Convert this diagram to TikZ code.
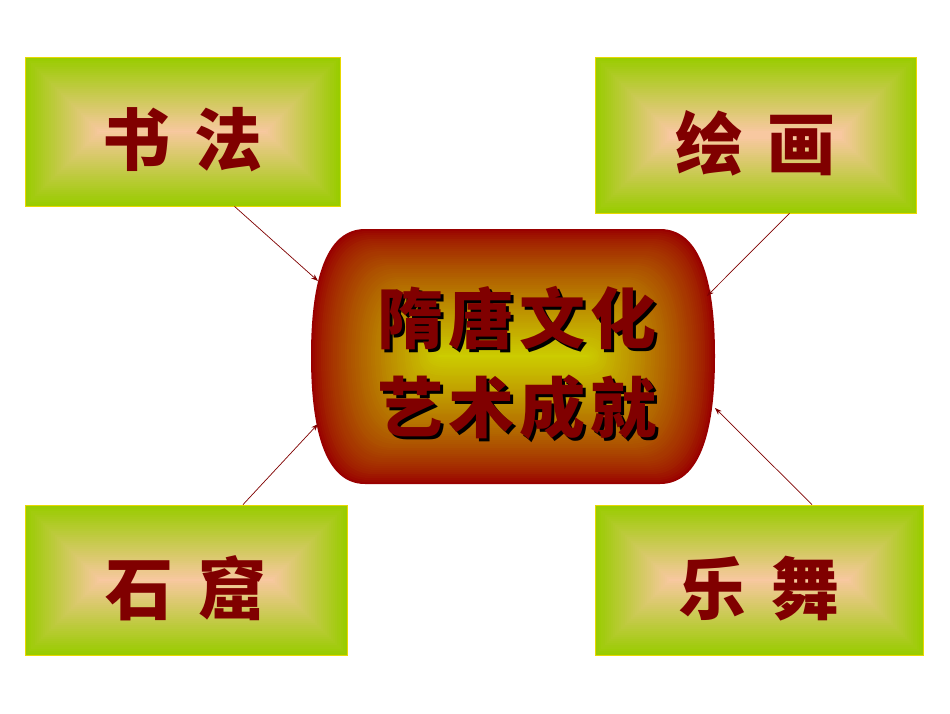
\documentclass[tikz,border=0pt]{standalone}
\usepackage{fontspec}
\usepackage{tikz}
\usetikzlibrary{arrows.meta}
\newfontfamily\cjk{Noto Sans CJK SC}[UprightFont=* Black]

\definecolor{tilegreen}{HTML}{99CC00}
\definecolor{tilepeach}{HTML}{F8C8A0}
\definecolor{tileedge}{HTML}{E8D800}
\definecolor{hubred}{HTML}{990000}
\definecolor{hubyellow}{HTML}{CCCC00}
\definecolor{inkred}{HTML}{800000}

\tikzset{
  tile/.style={draw=tileedge, line width=0.8pt, inner sep=0pt,
    font=\cjk\fontsize{68}{68}\selectfont, text=inkred,
    text height=74pt, text depth=6pt,
    path picture={
      \foreach \k in {0,...,37}{
        \pgfmathtruncatemacro\p{100*\k/37}
        \fill[tilepeach!\p!tilegreen]
          ([xshift=2*\k pt,yshift=2*\k pt]path picture bounding box.south west) rectangle
          ([xshift=-2*\k pt,yshift=-2*\k pt]path picture bounding box.north east);
      }
    }},
  hubtext/.style={align=center, font=\cjk\fontsize{66}{89}\selectfont},
  link/.style={draw=inkred, line width=0.7pt, -{Stealth[length=7pt,width=5pt]}}
}
\newcommand\hubpath{(-148,-127) -- (147,-127) .. controls (194,-127) and (202,-56) .. (202,0)
  .. controls (202,56) and (194,128) .. (147,128) -- (-148,128)
  .. controls (-194,128) and (-202,56) .. (-202,0)
  .. controls (-202,-56) and (-194,-127) .. (-148,-127) -- cycle}

\begin{document}
\begin{tikzpicture}[x=1pt, y=-1pt]
  \useasboundingbox[fill=white] (0,0) rectangle (950,713);

  % hub with its gradient
  \foreach \k in {0,...,63}{
    \pgfmathsetmacro\sx{(404-4*\k)/404}
    \pgfmathsetmacro\sy{max(0.001,(255-4*\k)/255)}
    \pgfmathtruncatemacro\p{100*(\k/63)^0.75}
    \begin{scope}[shift={(513,356)}, xscale=\sx, yscale=\sy]
      \fill[hubyellow!\p!hubred] \hubpath;
    \end{scope}
  }
  \node[hubtext, text=black] (hubshade) at (520,366)
    {隋\hspace{5pt}唐\hspace{5pt}文\hspace{5pt}化\\艺\hspace{5pt}术\hspace{5pt}成\hspace{5pt}就};
  \node[hubtext, text=inkred] (hub) at (517,363)
    {隋\hspace{5pt}唐\hspace{5pt}文\hspace{5pt}化\\艺\hspace{5pt}术\hspace{5pt}成\hspace{5pt}就};

  \coordinate (hubnw) at (318,281);
  \coordinate (hubne) at (707,296);
  \coordinate (hubsw) at (318,424);
  \coordinate (hubse) at (715,408);

  % the four tiles
  \node[tile, minimum width=315pt, minimum height=149pt] (shufa) at (182.5,131.5) {书\hspace{25pt}法};
  \node[tile, minimum width=321pt, minimum height=156pt] (huihua) at (755.5,135) {绘\hspace{25pt}画};
  \node[tile, minimum width=322pt, minimum height=150pt] (shiku) at (186,580) {石\hspace{25pt}窟};
  \node[tile, minimum width=328pt, minimum height=150pt] (yuewu) at (759,580) {乐\hspace{25pt}舞};

  \draw[link] ([xshift=52pt]shufa.south) -- (hubnw);
  \draw[link] ([xshift=34pt]huihua.south) -- (hubne);
  \draw[link] ([xshift=57pt]shiku.north) -- (hubsw);
  \draw[link] ([xshift=53pt]yuewu.north) -- (hubse);
\end{tikzpicture}
\end{document}
